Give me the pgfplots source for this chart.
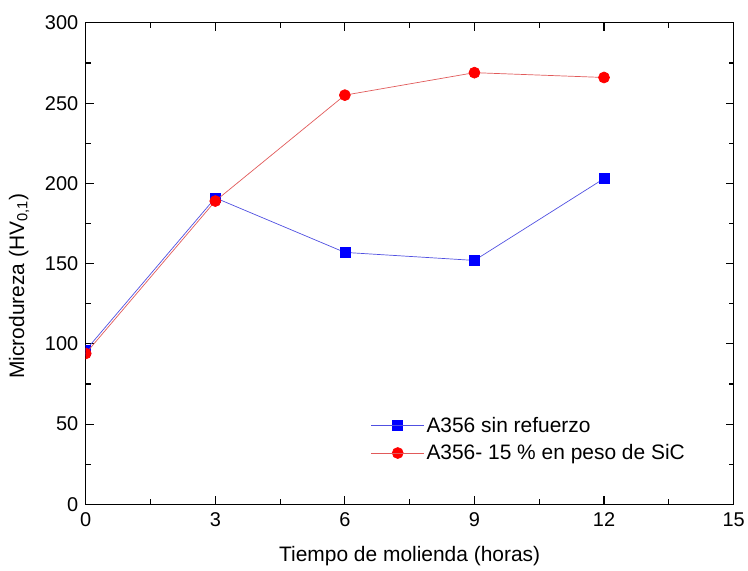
\documentclass[border=0pt]{standalone}
\usepackage{fontspec}
\setmainfont{Liberation Sans}
\usepackage{pgfplots}
\pgfplotsset{compat=1.18}
\usetikzlibrary{calc}
\definecolor{lineblue}{RGB}{80,80,225}
\definecolor{linered}{RGB}{225,90,90}

\pgfplotsset{
  clip marker paths=true,
  gapleg/.style={
    legend image code/.code={
      \draw[##1, mark=none] (0pt,0pt) -- (19pt,0pt) (34pt,0pt) -- (46pt,0pt);
      \draw[##1, only marks] plot coordinates {(26.5pt,0pt)};
      \path (0pt,0pt) -- (53pt,0pt);
    },
  },
}

\begin{document}
\begin{tikzpicture}
\begin{axis}[
  scale only axis,
  width=650pt, height=483pt,
  xmin=0, xmax=15, ymin=0, ymax=300,
  xtick={0,3,...,15}, ytick={0,50,...,300},
  minor x tick num=1, minor y tick num=1,
  tick align=inside, tick pos=both,
  major tick length=8pt, minor tick length=5pt,
  axis line style={line width=1.1pt}, every tick/.style={line width=1.1pt, black},
  clip marker paths=true,
  /pgf/number format/assume math mode=true,
  tick label style={font=\fontsize{20}{24}\selectfont},
  xticklabel style={yshift=-5pt},
  yticklabel style={xshift=-4pt},
  label style={font=\fontsize{21}{25}\selectfont},
  xlabel={Tiempo de molienda (horas)},
  ylabel={Microdureza (HV\textsubscript{0,1})},
  xlabel style={yshift=-13pt},
  ylabel style={at={(ticklabel cs:0.453)}, yshift=9pt},
  legend style={draw=none, fill=none, font=\fontsize{21}{25}\selectfont,
    at={(rel axis cs:0.44,0.19)}, anchor=north west, row sep=7pt,
    inner xsep=0pt},
  legend cell align=left,
]
\addplot[gapleg, color=lineblue, line width=0.7pt, mark=square*,
  mark options={fill=blue, draw=blue, solid}, mark size=5pt] coordinates {
  (0,96)(3,191)(6,157)(9,152)(12,203)
};
\addlegendentry{A356 sin refuerzo}
\addplot[gapleg, color=linered, line width=0.7pt, mark=*,
  mark options={fill=red, draw=red, solid}, mark size=5.5pt] coordinates {
  (0,94)(3,189)(6,255)(9,269)(12,266)
};
\addlegendentry{A356- 15 \% en peso de SiC}
\end{axis}
\useasboundingbox ($(current axis.south west)+(-86pt,-66pt)$) rectangle ($(current axis.north east)+(12pt,23pt)$);
\end{tikzpicture}
\end{document}
